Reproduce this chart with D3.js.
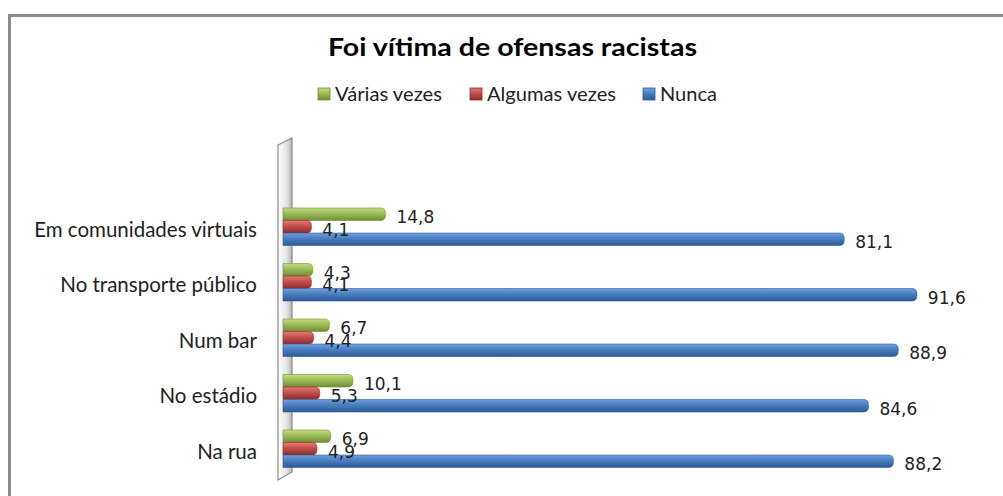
<!DOCTYPE html>
<html>
<head>
<meta charset="utf-8">
<script src="https://cdn.jsdelivr.net/npm/d3@7"></script>
<style>
  body { margin: 0; background: #fff; }
  svg { display: block; }
</style>
</head>
<body>
<svg id="chart"></svg>
<script>
// dados
const categorias = ['Em comunidades virtuais', 'No transporte público', 'Num bar', 'No estádio', 'Na rua']
const series = ['Várias vezes', 'Algumas vezes', 'Nunca']
const variasVezes = [14.8, 4.3, 6.7, 10.1, 6.9]
const algumasVezes = [4.1, 4.1, 4.4, 5.3, 4.9]
const nunca = [81.1, 91.6, 88.9, 84.6, 88.2]
const valores = [variasVezes, algumasVezes, nunca]

const cores = [
  {top: '#c3de7c', mid: '#9bbb59', bot: '#6f8d35'},
  {top: '#ec7775', mid: '#c0504d', bot: '#8f2a28'},
  {top: '#6f9fe0', mid: '#4a7ebf', bot: '#2b5a96'}
]

const W = 1003, H = 496
const svg = d3.select('#chart').attr('width', W).attr('height', H)
const defs = svg.append('defs')

cores.forEach((c, i) => {
  const g = defs.append('linearGradient').attr('id', 'grad' + i)
    .attr('x1', 0).attr('y1', 0).attr('x2', 0).attr('y2', 1)
  g.append('stop').attr('offset', '0%').attr('stop-color', c.top)
  g.append('stop').attr('offset', '45%').attr('stop-color', c.mid)
  g.append('stop').attr('offset', '100%').attr('stop-color', c.bot)
})
const wallGrad = defs.append('linearGradient').attr('id', 'wall')
  .attr('x1', 0).attr('y1', 0).attr('x2', 1).attr('y2', 0)
wallGrad.append('stop').attr('offset', '0%').attr('stop-color', '#ffffff')
wallGrad.append('stop').attr('offset', '60%').attr('stop-color', '#e4e4e4')
wallGrad.append('stop').attr('offset', '100%').attr('stop-color', '#b8b8b8')

// moldura
svg.append('rect')
  .attr('x', 9.5).attr('y', 15.5)
  .attr('width', 1000).attr('height', 500)
  .attr('fill', '#fff')
  .attr('stroke', '#8c8c8c')
  .attr('stroke-width', 3)

// título
svg.append('text')
  .attr('x', 328).attr('y', 56)
  .attr('textLength', 369).attr('lengthAdjust', 'spacingAndGlyphs')
  .style('font-family', 'Lato, "Open Sans", sans-serif')
  .style('font-weight', 'bold')
  .style('font-size', '25px')
  .attr('fill', '#000')
  .text('Foi vítima de ofensas racistas')

// legenda
const legX = [318, 470, 643]
const legW = [107, 129, 57]
const leg = svg.append('g')
series.forEach((s, i) => {
  leg.append('rect')
    .attr('x', legX[i]).attr('y', 88)
    .attr('width', 12).attr('height', 12)
    .attr('fill', 'url(#grad' + i + ')')
    .attr('stroke', cores[i].bot).attr('stroke-width', 0.8)
  leg.append('text')
    .attr('x', legX[i] + 17).attr('y', 101)
    .attr('textLength', legW[i]).attr('lengthAdjust', 'spacingAndGlyphs')
    .style('font-family', 'Lato, "Open Sans", sans-serif')
    .style('font-size', '19px')
    .attr('fill', '#222')
    .text(s)
})

const x = d3.scaleLinear().domain([0, 100]).range([283, 975])
const y = d3.scaleBand().domain(categorias).range([199, 476.5]).paddingInner(0.324).paddingOuter(0.162)
const ySub = d3.scaleBand().domain(d3.range(series.length)).range([0, y.bandwidth()])

// parede do eixo
svg.append('path')
  .attr('d', 'M278,145 L292,138 L292,472 L278,480 Z')
  .attr('fill', 'url(#wall)')
  .attr('stroke', '#8a8a8a')
  .attr('stroke-width', 1.2)

// barra com ponta arredondada à direita
function barra(x0, x1, y0, h) {
  const r = Math.min(5, h / 2, x1 - x0)
  return `M${x0},${y0} H${x1 - r} Q${x1},${y0} ${x1},${y0 + r} V${y0 + h - r} Q${x1},${y0 + h} ${x1 - r},${y0 + h} H${x0} Z`
}

const grupos = svg.append('g')
categorias.forEach((cat, ci) => {
  valores.forEach((vals, si) => {
    const y0 = y(cat) + ySub(si)
    grupos.append('path')
      .attr('d', barra(x(0), x(vals[ci]), y0, ySub.bandwidth()))
      .attr('fill', 'url(#grad' + si + ')')
      .attr('stroke', cores[si].bot)
      .attr('stroke-width', 0.6)
  })
})

// rótulos de valor
categorias.forEach((cat, ci) => {
  valores.forEach((vals, si) => {
    const yc = y(cat) + ySub(si) + ySub.bandwidth() / 2
    svg.append('text')
      .attr('x', x(vals[ci]) + 11).attr('y', yc + 9)
      .style('font-family', '"DejaVu Sans", Verdana, sans-serif')
      .style('font-size', '17px')
      .attr('fill', '#222')
      .text(d3.format('.1f')(vals[ci]).replace('.', ','))
  })
})

// rótulos de categoria
categorias.forEach(cat => {
  svg.append('text')
    .attr('x', 257).attr('y', y(cat) + y.bandwidth() / 2 + 10)
    .attr('text-anchor', 'end')
    .style('font-family', 'Lato, "Open Sans", sans-serif')
    .style('font-size', '20.5px')
    .attr('fill', '#222')
    .text(cat)
})
</script>
</body>
</html>
